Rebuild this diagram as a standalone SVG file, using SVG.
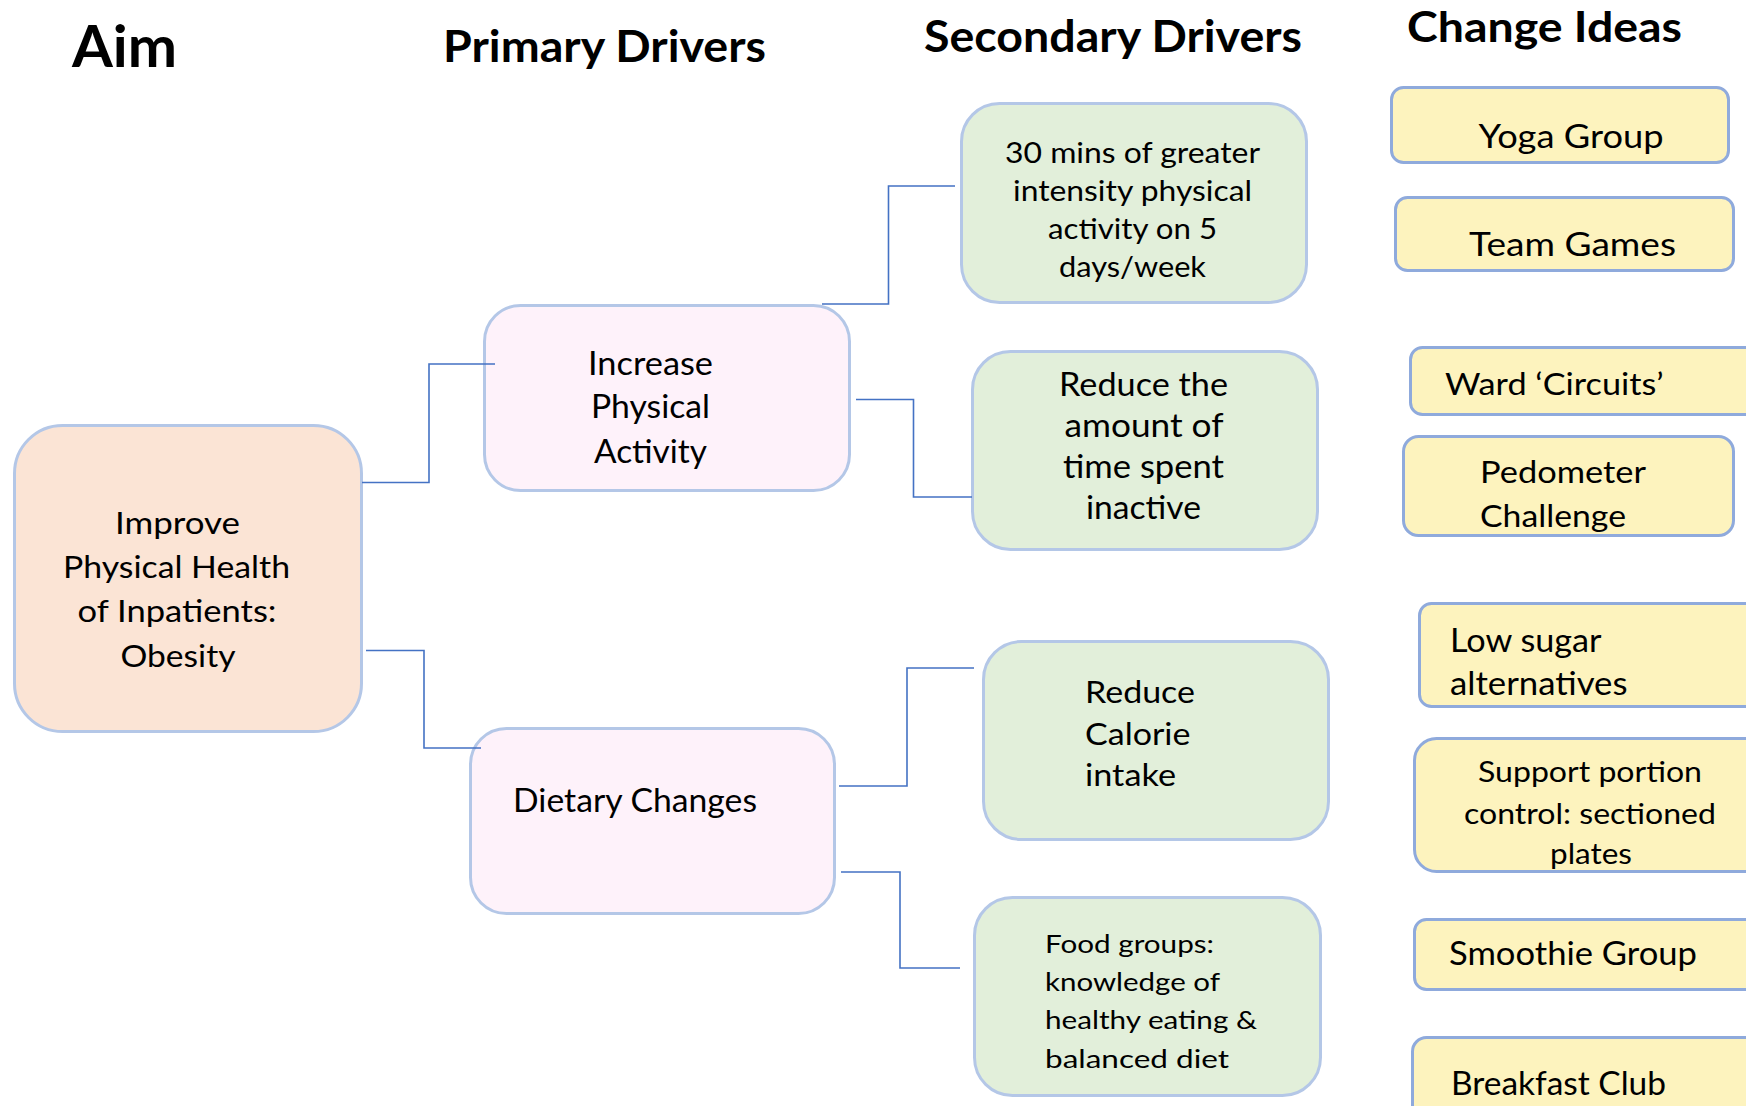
<svg xmlns="http://www.w3.org/2000/svg" width="1746" height="1106" viewBox="0 0 1746 1106">
<style>
text{font-family:Lato,"Liberation Sans",sans-serif;fill:#000}
.h{font-weight:700}
.aim{fill:#FBE4D5;stroke:#B4C7E7;stroke-width:3}
.pri{fill:#FEF2FA;stroke:#B4C7E7;stroke-width:3}
.sec{fill:#E2EFDA;stroke:#B4C7E7;stroke-width:3}
.ci{fill:#FDF3BE;stroke:#8FAADC;stroke-width:3}
.con{fill:none;stroke:#4472C4;stroke-width:1.6}
</style>
<rect width="1746" height="1106" fill="#fff"/>
<g id="headers">
<text class="h" x="72" y="67" font-size="58" textLength="105" lengthAdjust="spacingAndGlyphs">Aim</text>
<text class="h" x="443" y="62" font-size="43" textLength="323" lengthAdjust="spacingAndGlyphs">Primary Drivers</text>
<text class="h" x="924" y="52" font-size="43" textLength="378" lengthAdjust="spacingAndGlyphs">Secondary Drivers</text>
<text class="h" x="1407" y="42" font-size="42" textLength="275" lengthAdjust="spacingAndGlyphs">Change Ideas</text>
</g>
<g id="aim">
<rect class="aim" x="14.5" y="425.5" width="347" height="306" rx="48"/>
<text x="115" y="534" font-size="31" textLength="125" lengthAdjust="spacingAndGlyphs">Improve</text>
<text x="63" y="578" font-size="31" textLength="227" lengthAdjust="spacingAndGlyphs">Physical Health</text>
<text x="77.5" y="622" font-size="31" textLength="199" lengthAdjust="spacingAndGlyphs">of Inpatients:</text>
<text x="120.5" y="667" font-size="31" textLength="115" lengthAdjust="spacingAndGlyphs">Obesity</text>
</g>
<g id="primary1">
<rect class="pri" x="484.5" y="305.5" width="365" height="185" rx="36"/>
<text x="588" y="375" font-size="32" textLength="125" lengthAdjust="spacingAndGlyphs">Increase</text>
<text x="591" y="418" font-size="32" textLength="119" lengthAdjust="spacingAndGlyphs">Physical</text>
<text x="594" y="463" font-size="32" textLength="113" lengthAdjust="spacingAndGlyphs">Activity</text>
</g>
<g id="primary2">
<rect class="pri" x="470.5" y="728.5" width="364" height="185" rx="36"/>
<text x="513" y="812" font-size="33" textLength="244" lengthAdjust="spacingAndGlyphs">Dietary Changes</text>
</g>
<g id="secondary1">
<rect class="sec" x="961.5" y="103.5" width="345" height="199" rx="38"/>
<text x="1005" y="163" font-size="29" textLength="255" lengthAdjust="spacingAndGlyphs">30 mins of greater</text>
<text x="1013" y="201" font-size="29" textLength="239" lengthAdjust="spacingAndGlyphs">intensity physical</text>
<text x="1048" y="239" font-size="29" textLength="169" lengthAdjust="spacingAndGlyphs">activity on 5</text>
<text x="1059" y="277" font-size="29" textLength="147" lengthAdjust="spacingAndGlyphs">days/week</text>
</g>
<g id="secondary2">
<rect class="sec" x="972.5" y="351.5" width="345" height="198" rx="38"/>
<text x="1059" y="396" font-size="32" textLength="169" lengthAdjust="spacingAndGlyphs">Reduce the</text>
<text x="1064.5" y="437" font-size="32" textLength="159" lengthAdjust="spacingAndGlyphs">amount of</text>
<text x="1063" y="478" font-size="32" textLength="161" lengthAdjust="spacingAndGlyphs">time spent</text>
<text x="1086" y="519" font-size="32" textLength="115" lengthAdjust="spacingAndGlyphs">inactive</text>
</g>
<g id="secondary3">
<rect class="sec" x="983.5" y="641.5" width="345" height="198" rx="38"/>
<text x="1085" y="703" font-size="31" textLength="110" lengthAdjust="spacingAndGlyphs">Reduce</text>
<text x="1085" y="745" font-size="31" textLength="105.5" lengthAdjust="spacingAndGlyphs">Calorie</text>
<text x="1085" y="786" font-size="31" textLength="91" lengthAdjust="spacingAndGlyphs">intake</text>
</g>
<g id="secondary4">
<rect class="sec" x="974.5" y="897.5" width="346" height="198" rx="38"/>
<text x="1045" y="953" font-size="25.5" textLength="169" lengthAdjust="spacingAndGlyphs">Food groups:</text>
<text x="1045" y="991" font-size="25.5" textLength="175" lengthAdjust="spacingAndGlyphs">knowledge of</text>
<text x="1045" y="1029" font-size="25.5" textLength="212" lengthAdjust="spacingAndGlyphs">healthy eating &amp;</text>
<text x="1045" y="1068" font-size="25.5" textLength="184" lengthAdjust="spacingAndGlyphs">balanced diet</text>
</g>
<g id="idea-yoga">
<rect class="ci" x="1391.5" y="87.5" width="337" height="75" rx="12"/>
<text x="1478.5" y="148" font-size="33" textLength="185" lengthAdjust="spacingAndGlyphs">Yoga Group</text>
</g>
<g id="idea-team">
<rect class="ci" x="1395.5" y="197.5" width="338" height="73" rx="12"/>
<text x="1469" y="256" font-size="32" textLength="207" lengthAdjust="spacingAndGlyphs">Team Games</text>
</g>
<g id="idea-ward">
<rect class="ci" x="1410.5" y="347.5" width="360" height="67" rx="12"/>
<text x="1445" y="395" font-size="31" textLength="218.5" lengthAdjust="spacingAndGlyphs">Ward ‘Circuits’</text>
</g>
<g id="idea-pedometer">
<rect class="ci" x="1403.5" y="436.5" width="330" height="99" rx="15"/>
<text x="1480" y="483" font-size="31" textLength="166" lengthAdjust="spacingAndGlyphs">Pedometer</text>
<text x="1480" y="527" font-size="31" textLength="146" lengthAdjust="spacingAndGlyphs">Challenge</text>
</g>
<g id="idea-lowsugar">
<rect class="ci" x="1419.5" y="603.5" width="360" height="103" rx="12"/>
<text x="1450" y="652" font-size="32" textLength="151.5" lengthAdjust="spacingAndGlyphs">Low sugar</text>
<text x="1450" y="695" font-size="32" textLength="177.5" lengthAdjust="spacingAndGlyphs">alternatives</text>
</g>
<g id="idea-portion">
<rect class="ci" x="1414.5" y="738.5" width="360" height="133" rx="22"/>
<text x="1478" y="782" font-size="28" textLength="224" lengthAdjust="spacingAndGlyphs">Support portion</text>
<text x="1464" y="824" font-size="28" textLength="252" lengthAdjust="spacingAndGlyphs">control: sectioned</text>
<text x="1550" y="864" font-size="28" textLength="82" lengthAdjust="spacingAndGlyphs">plates</text>
</g>
<g id="idea-smoothie">
<rect class="ci" x="1414.5" y="919.5" width="360" height="70" rx="12"/>
<text x="1449" y="965" font-size="32" textLength="248" lengthAdjust="spacingAndGlyphs">Smoothie Group</text>
</g>
<g id="idea-breakfast">
<rect class="ci" x="1412.5" y="1037.5" width="360" height="100" rx="14"/>
<text x="1451" y="1095" font-size="32" textLength="215" lengthAdjust="spacingAndGlyphs">Breakfast Club</text>
</g>
<g id="connectors">
<polyline class="con" points="362,482.5 429,482.5 429,364 495,364"/>
<polyline class="con" points="366,650.5 424,650.5 424,748 481,748"/>
<polyline class="con" points="822,304 888.5,304 888.5,186 955,186"/>
<polyline class="con" points="856,399.5 913.5,399.5 913.5,497 972,497"/>
<polyline class="con" points="839,786 907,786 907,668 974,668"/>
<polyline class="con" points="841,872 900,872 900,968 960,968"/>
</g>
</svg>
